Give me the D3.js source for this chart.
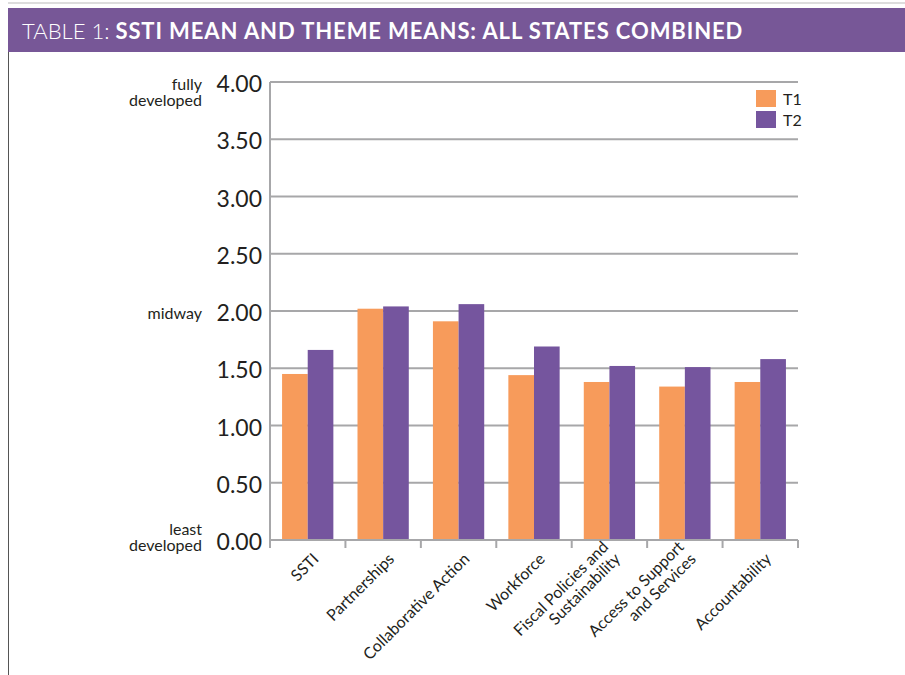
<!DOCTYPE html>
<html>
<head>
<meta charset="utf-8">
<script src="https://cdn.jsdelivr.net/npm/d3@7"></script>
<style>
  body { margin: 0; background: #fff; }
  svg { display: block; font-family: Lato, "Noto Sans", sans-serif; }
</style>
</head>
<body>
<div id="chart"></div>
<script>
// Theme means, T1 vs T2
const categories = ['SSTI', 'Partnerships', 'Collaborative Action', 'Workforce',
    'Fiscal Policies and|Sustainability', 'Access to Support|and Services', 'Accountability'];
const seriesNames = ['T1', 'T2'];
const t1Values = [1.45, 2.02, 1.91, 1.44, 1.38, 1.34, 1.38];
const t2Values = [1.66, 2.04, 2.06, 1.69, 1.52, 1.51, 1.58];
const yTicks = [0, 0.5, 1, 1.5, 2, 2.5, 3, 3.5, 4];
const sideLabels = [
    { value: 4, lines: ['fully', 'developed'], dy: [8, 24] },
    { value: 2, lines: ['midway'], dy: [8] },
    { value: 0, lines: ['least', 'developed'], dy: [-5, 11] }
];

const colors = { T1: '#f79b5b', T2: '#75559e' };
const gridColor = '#a7a7a9';
const textColor = '#231f20';

const width = 905, height = 675;
const margin = { left: 270, right: 107, top: 82, bottom: 135 };

const svg = d3.select('#chart').append('svg')
    .attr('width', width)
    .attr('height', height);

// Frame + header band
svg.append('line')
    .attr('x1', 8).attr('x2', width).attr('y1', 3).attr('y2', 3)
    .attr('stroke', '#bbb').attr('stroke-width', 1);
svg.append('line')
    .attr('x1', 8.5).attr('x2', 8.5).attr('y1', 52).attr('y2', height)
    .attr('stroke', '#555').attr('stroke-width', 1);
svg.append('rect')
    .attr('x', 8).attr('y', 8).attr('width', width - 8).attr('height', 44)
    .attr('fill', '#775797');

const title = svg.append('text')
    .attr('x', 22).attr('y', 39)
    .attr('fill', '#fff')
    .attr('font-size', 22);
title.append('tspan').attr('font-weight', 300).text('TABLE 1: ');
title.append('tspan').attr('font-weight', 700).attr('letter-spacing', 0.9)
    .text('SSTI MEAN AND THEME MEANS: ALL STATES COMBINED');

const x0 = d3.scaleBand()
    .domain(categories)
    .range([margin.left, width - margin.right])
    .paddingInner(0.32)
    .paddingOuter(0.16);

const x1 = d3.scaleBand()
    .domain(seriesNames)
    .range([0, x0.bandwidth()]);

const y = d3.scaleLinear()
    .domain([0, 4])
    .range([height - margin.bottom, margin.top]);

const g = svg.append('g');

// Gridlines
g.append('g')
    .selectAll('line')
    .data(yTicks.filter(d => d > 0))
    .join('line')
    .attr('x1', margin.left).attr('x2', width - margin.right)
    .attr('y1', d => y(d)).attr('y2', d => y(d))
    .attr('stroke', gridColor).attr('stroke-width', 2);

// Bars
const rows = categories.map((c, i) => ({ cat: c, values: [
    { key: 'T1', value: t1Values[i] },
    { key: 'T2', value: t2Values[i] }
] }));

g.append('g')
    .selectAll('g')
    .data(rows)
    .join('g')
    .attr('transform', d => `translate(${x0(d.cat)},0)`)
    .selectAll('rect')
    .data(d => d.values)
    .join('rect')
    .attr('x', d => x1(d.key))
    .attr('width', x1.bandwidth())
    .attr('y', d => y(d.value))
    .attr('height', d => y(0) - y(d.value))
    .attr('fill', d => colors[d.key]);

// Axes lines
const boundaries = d3.range(categories.length + 1)
    .map(i => margin.left + i * (width - margin.left - margin.right) / categories.length);

g.append('line')
    .attr('x1', margin.left).attr('x2', margin.left)
    .attr('y1', y(4)).attr('y2', y(0) + 8)
    .attr('stroke', gridColor).attr('stroke-width', 2);
g.append('line')
    .attr('x1', margin.left).attr('x2', width - margin.right)
    .attr('y1', y(0)).attr('y2', y(0))
    .attr('stroke', gridColor).attr('stroke-width', 2);
g.append('g')
    .selectAll('line')
    .data(boundaries)
    .join('line')
    .attr('x1', d => d).attr('x2', d => d)
    .attr('y1', y(0)).attr('y2', y(0) + 8)
    .attr('stroke', gridColor).attr('stroke-width', 2);

// Y tick labels
g.append('g')
    .selectAll('text')
    .data(yTicks)
    .join('text')
    .attr('x', margin.left - 8)
    .attr('y', d => y(d) + 10)
    .attr('text-anchor', 'end')
    .attr('font-size', 23)
    .attr('fill', textColor)
    .text(d => d.toFixed(2));

// Descriptive side labels
sideLabels.forEach(s => {
    const t = g.append('text')
        .attr('text-anchor', 'end')
        .attr('font-size', 16)
        .attr('fill', textColor);
    s.lines.forEach((line, i) => {
        t.append('tspan')
            .attr('x', 202)
            .attr('y', y(s.value) + s.dy[i])
            .text(line);
    });
});

// Category labels, rotated
g.append('g')
    .selectAll('text')
    .data(categories)
    .join('text')
    .attr('transform', d => `translate(${x0(d) + x0.bandwidth() / 2 + 12},${y(0) + 20}) rotate(-45)`)
    .attr('text-anchor', 'end')
    .attr('font-size', 16)
    .attr('fill', textColor)
    .each(function (d) {
        const lines = d.split('|');
        const t = d3.select(this);
        lines.forEach((line, i) => {
            t.append('tspan')
                .attr('x', 0)
                .attr('y', (i - (lines.length - 1)) * 17)
                .text(line);
        });
    });

// Legend
const legend = g.append('g')
    .selectAll('g')
    .data(seriesNames)
    .join('g')
    .attr('transform', (d, i) => `translate(756,${90 + i * 21})`);
legend.append('rect')
    .attr('width', 20).attr('height', 17)
    .attr('fill', d => colors[d]);
legend.append('text')
    .attr('x', 27).attr('y', 15)
    .attr('font-size', 16)
    .attr('fill', textColor)
    .text(d => d);
</script>
</body>
</html>
